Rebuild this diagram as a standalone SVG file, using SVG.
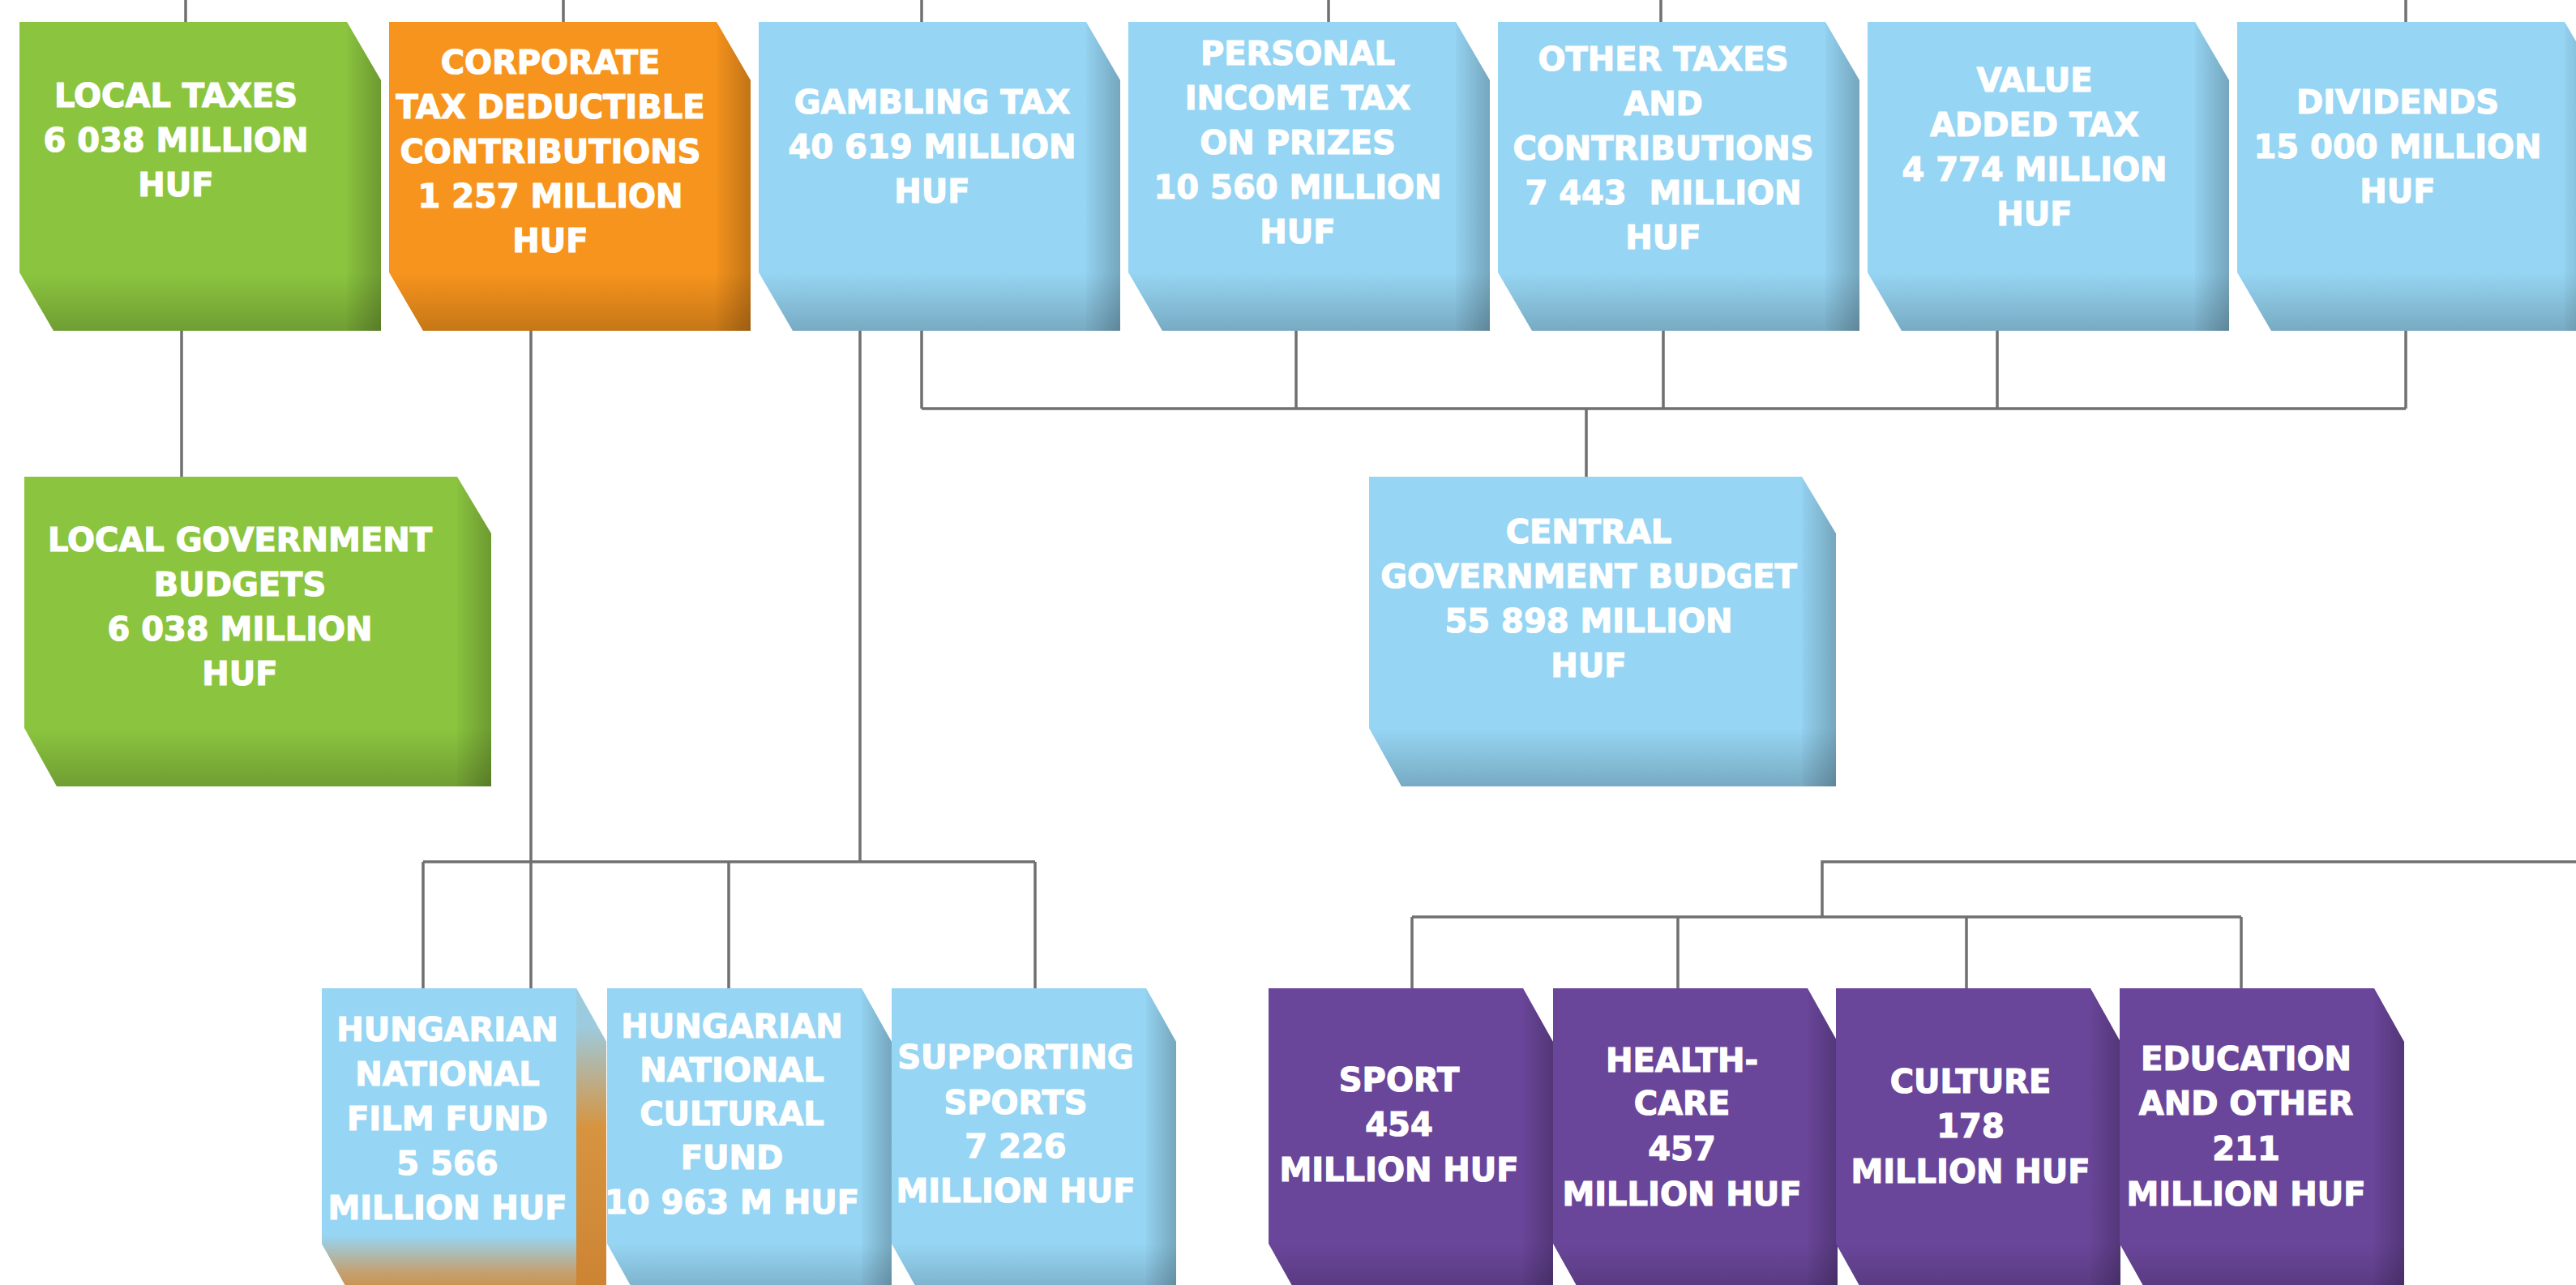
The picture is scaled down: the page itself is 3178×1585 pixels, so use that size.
<svg xmlns="http://www.w3.org/2000/svg" xmlns:xlink="http://www.w3.org/1999/xlink" width="3178" height="1585" viewBox="0 0 3178 1585">
<style>
.green{fill:#8BC53F}
.orange{fill:#F7941D}
.blue{fill:#96D5F3}
.purple{fill:#6A469A}
.lbl{font-family:"DejaVu Sans","Liberation Sans",sans-serif;font-weight:bold;font-size:40px;fill:#ffffff;stroke:#ffffff;stroke-width:1.2;text-anchor:middle}
.con{fill:none;stroke:#707070;stroke-width:3.5}
</style>
<defs>
<linearGradient id="gR" x1="0" y1="0" x2="1" y2="0">
<stop offset="0" stop-color="#000" stop-opacity="0.02"/>
<stop offset="1" stop-color="#000" stop-opacity="0.22"/>
</linearGradient>
<linearGradient id="gB" x1="0" y1="0" x2="0" y2="1">
<stop offset="0" stop-color="#000" stop-opacity="0.0"/>
<stop offset="1" stop-color="#000" stop-opacity="0.2"/>
</linearGradient>
<linearGradient id="oR" x1="0" y1="0" x2="0" y2="1">
<stop offset="0.12" stop-color="#9ccbe0"/>
<stop offset="0.45" stop-color="#d79440"/>
<stop offset="1" stop-color="#cc8333"/>
</linearGradient>
<linearGradient id="oB" x1="0" y1="0" x2="0" y2="1">
<stop offset="0" stop-color="#96D5F3"/>
<stop offset="0.6" stop-color="#c4a070"/>
<stop offset="1" stop-color="#cf8a38"/>
</linearGradient>
<path id="shA" d="M0 0H404L446 72V381H42L0 309Z"/>
<path id="shB" d="M0 0H534L576 70V382H40L0 310Z"/>
<path id="shC" d="M0 0H314L351 66V381H37L0 315Z"/>
<clipPath id="clA"><use xlink:href="#shA"/></clipPath>
<clipPath id="clB"><use xlink:href="#shB"/></clipPath>
<clipPath id="clC"><use xlink:href="#shC"/></clipPath>
<g id="sdA" clip-path="url(#clA)">
<rect x="0" y="309" width="446" height="72" fill="url(#gB)"/>
<rect x="404" y="0" width="42" height="381" fill="url(#gR)"/>
</g>
<g id="sdB" clip-path="url(#clB)">
<rect x="0" y="310" width="576" height="72" fill="url(#gB)"/>
<rect x="534" y="0" width="42" height="382" fill="url(#gR)"/>
</g>
<g id="sdC" clip-path="url(#clC)">
<rect x="0" y="315" width="351" height="66" fill="url(#gB)"/>
<rect x="314" y="0" width="37" height="381" fill="url(#gR)"/>
</g>
</defs>
<rect width="3178" height="1585" fill="#ffffff"/>

<g id="connectors">
<path class="con" d="M229 0V27M695 0V27M1137 0V27M1639 0V27M2049 0V27M2968 0V27"/>
<path class="con" d="M224 408V588"/>
<path class="con" d="M655 408V1219"/>
<path class="con" d="M1061 408V1063M522 1063H1277M522 1063V1219M899 1063V1219M1277 1063V1219"/>
<path class="con" d="M1137 408V504M1599 408V504M2052 408V504M2464 408V504M2968 408V504M1137 504H2968M1957 504V588"/>
<path class="con" d="M3178 1063H2248V1131M1742 1131H2765M1742 1131V1219M2070 1131V1219M2426 1131V1219M2765 1131V1219"/>
</g>

<g id="n-local-taxes" transform="translate(24,27)">
<use xlink:href="#shA" class="green"/><use xlink:href="#sdA"/>
<text class="lbl"><tspan x="193" y="105">LOCAL TAXES</tspan><tspan x="193" y="160">6 038 MILLION</tspan><tspan x="193" y="215">HUF</tspan></text>
</g>
<g id="n-corporate" transform="translate(480,27)">
<use xlink:href="#shA" class="orange"/><use xlink:href="#sdA"/>
<text class="lbl"><tspan x="199" y="64">CORPORATE</tspan><tspan x="199" y="119">TAX DEDUCTIBLE</tspan><tspan x="199" y="174">CONTRIBUTIONS</tspan><tspan x="199" y="229">1 257 MILLION</tspan><tspan x="199" y="284">HUF</tspan></text>
</g>
<g id="n-gambling" transform="translate(936,27)">
<use xlink:href="#shA" class="blue"/><use xlink:href="#sdA"/>
<text class="lbl"><tspan x="214" y="113">GAMBLING TAX</tspan><tspan x="214" y="168">40 619 MILLION</tspan><tspan x="214" y="223">HUF</tspan></text>
</g>
<g id="n-personal" transform="translate(1392,27)">
<use xlink:href="#shA" class="blue"/><use xlink:href="#sdA"/>
<text class="lbl"><tspan x="209" y="53">PERSONAL</tspan><tspan x="209" y="108">INCOME TAX</tspan><tspan x="209" y="163">ON PRIZES</tspan><tspan x="209" y="218">10 560 MILLION</tspan><tspan x="209" y="273">HUF</tspan></text>
</g>
<g id="n-other" transform="translate(1848,27)">
<use xlink:href="#shA" class="blue"/><use xlink:href="#sdA"/>
<text class="lbl"><tspan x="204" y="60">OTHER TAXES</tspan><tspan x="204" y="115">AND</tspan><tspan x="204" y="170">CONTRIBUTIONS</tspan><tspan x="204" y="225" xml:space="preserve">7 443  MILLION</tspan><tspan x="204" y="280">HUF</tspan></text>
</g>
<g id="n-vat" transform="translate(2304,27)">
<use xlink:href="#shA" class="blue"/><use xlink:href="#sdA"/>
<text class="lbl"><tspan x="206" y="86">VALUE</tspan><tspan x="206" y="141">ADDED TAX</tspan><tspan x="206" y="196">4 774 MILLION</tspan><tspan x="206" y="251">HUF</tspan></text>
</g>
<g id="n-dividends" transform="translate(2760,27)">
<use xlink:href="#shA" class="blue"/><use xlink:href="#sdA"/>
<text class="lbl"><tspan x="198" y="113">DIVIDENDS</tspan><tspan x="198" y="168">15 000 MILLION</tspan><tspan x="198" y="223">HUF</tspan></text>
</g>

<g id="n-local-gov" transform="translate(30,588)">
<use xlink:href="#shB" class="green"/><use xlink:href="#sdB"/>
<text class="lbl"><tspan x="266" y="92">LOCAL GOVERNMENT</tspan><tspan x="266" y="147">BUDGETS</tspan><tspan x="266" y="202">6 038 MILLION</tspan><tspan x="266" y="257">HUF</tspan></text>
</g>
<g id="n-central" transform="translate(1689,588)">
<use xlink:href="#shB" class="blue"/><use xlink:href="#sdB"/>
<text class="lbl"><tspan x="271" y="82">CENTRAL</tspan><tspan x="271" y="137">GOVERNMENT BUDGET</tspan><tspan x="271" y="192">55 898 MILLION</tspan><tspan x="271" y="247">HUF</tspan></text>
</g>

<g id="n-film" transform="translate(397,1219)">
<use xlink:href="#shC" class="blue"/>
<g clip-path="url(#clC)">
<rect x="0" y="305" width="351" height="76" fill="url(#oB)"/>
<rect x="314" y="0" width="37" height="381" fill="url(#oR)"/>
</g>
<text class="lbl"><tspan x="155" y="65">HUNGARIAN</tspan><tspan x="155" y="120">NATIONAL</tspan><tspan x="155" y="175">FILM FUND</tspan><tspan x="155" y="230">5 566</tspan><tspan x="155" y="285">MILLION HUF</tspan></text>
</g>
<g id="n-cultural" transform="translate(749,1219)">
<use xlink:href="#shC" class="blue"/><use xlink:href="#sdC"/>
<text class="lbl"><tspan x="154" y="61">HUNGARIAN</tspan><tspan x="154" y="115">NATIONAL</tspan><tspan x="154" y="169">CULTURAL</tspan><tspan x="154" y="223">FUND</tspan><tspan x="154" y="278">10 963 M HUF</tspan></text>
</g>
<g id="n-supporting" transform="translate(1100,1219)">
<use xlink:href="#shC" class="blue"/><use xlink:href="#sdC"/>
<text class="lbl"><tspan x="153" y="99">SUPPORTING</tspan><tspan x="153" y="155">SPORTS</tspan><tspan x="153" y="209">7 226</tspan><tspan x="153" y="264">MILLION HUF</tspan></text>
</g>

<g id="n-sport" transform="translate(1565,1219)">
<use xlink:href="#shC" class="purple"/><use xlink:href="#sdC"/>
<text class="lbl"><tspan x="161" y="127">SPORT</tspan><tspan x="161" y="182">454</tspan><tspan x="161" y="238">MILLION HUF</tspan></text>
</g>
<g id="n-health" transform="translate(1916,1219)">
<use xlink:href="#shC" class="purple"/><use xlink:href="#sdC"/>
<text class="lbl"><tspan x="159" y="103">HEALTH-</tspan><tspan x="159" y="156">CARE</tspan><tspan x="159" y="212">457</tspan><tspan x="159" y="268">MILLION HUF</tspan></text>
</g>
<g id="n-culture" transform="translate(2265,1219)">
<use xlink:href="#shC" class="purple"/><use xlink:href="#sdC"/>
<text class="lbl"><tspan x="166" y="129">CULTURE</tspan><tspan x="166" y="184">178</tspan><tspan x="166" y="240">MILLION HUF</tspan></text>
</g>
<g id="n-education" transform="translate(2615,1219)">
<use xlink:href="#shC" class="purple"/><use xlink:href="#sdC"/>
<text class="lbl"><tspan x="156" y="101">EDUCATION</tspan><tspan x="156" y="156">AND OTHER</tspan><tspan x="156" y="212">211</tspan><tspan x="156" y="268">MILLION HUF</tspan></text>
</g>
</svg>
